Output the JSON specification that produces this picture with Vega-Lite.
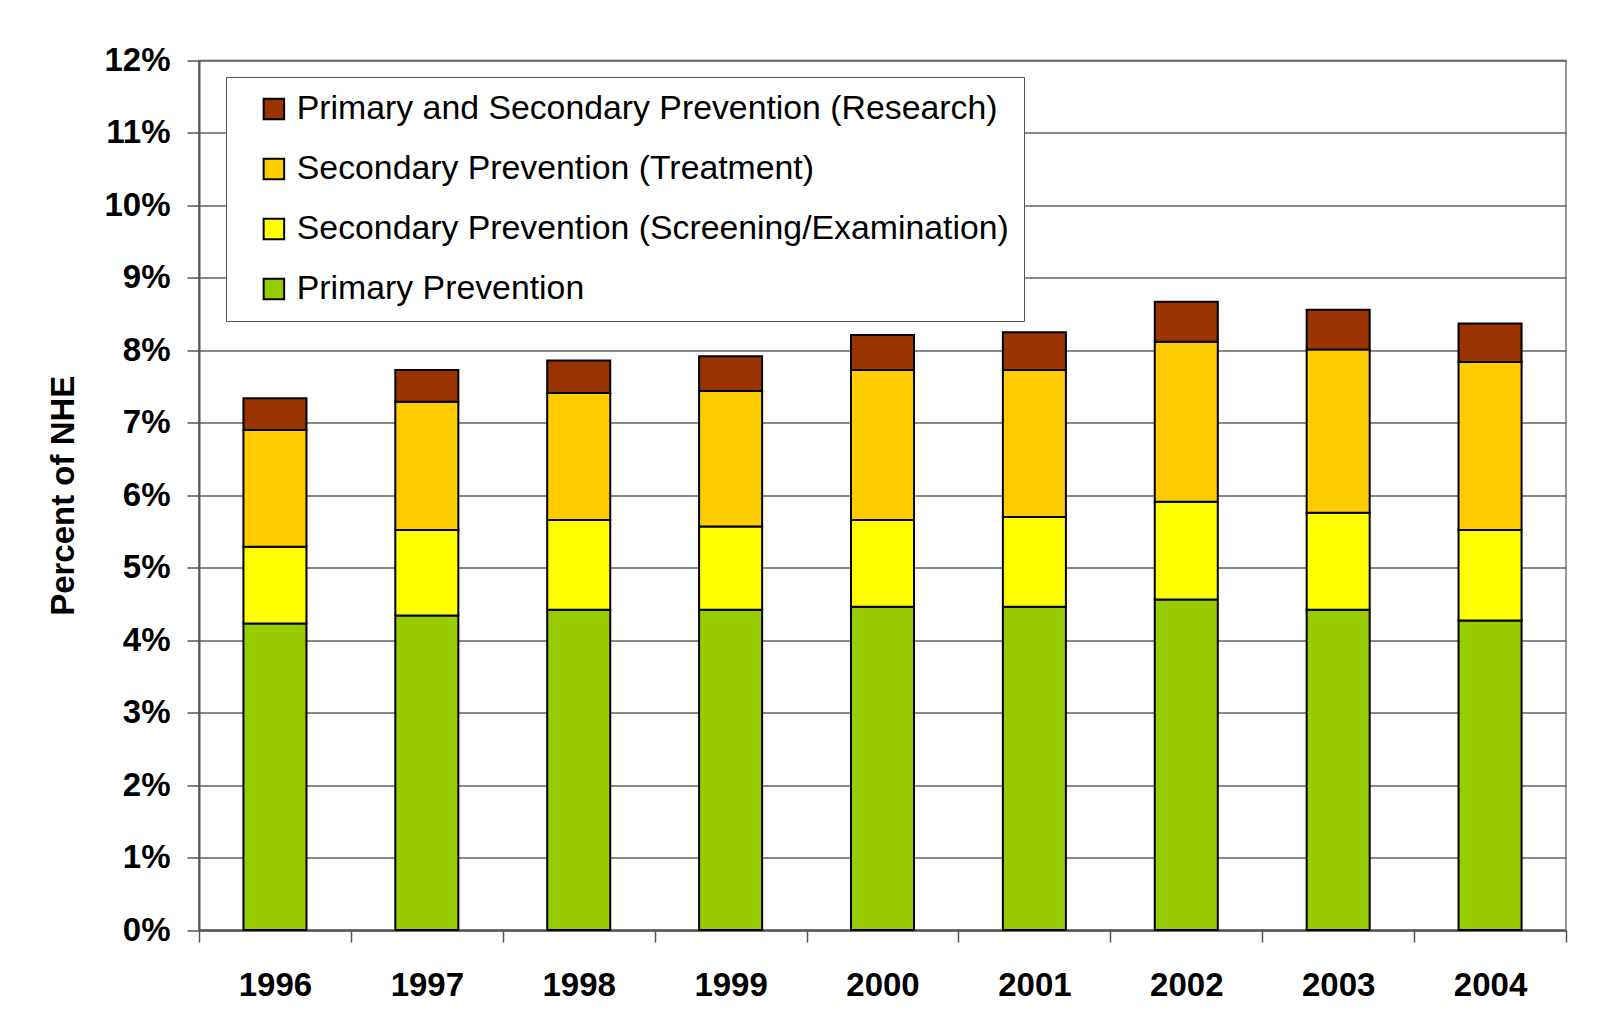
{
  "$schema": "https://vega.github.io/schema/vega-lite/v6.json",
  "autosize": "none",
  "padding": {"left": 199, "top": 60.5, "right": 42, "bottom": 105},
  "width": 1367,
  "height": 869.5,
  "background": "white",
  "config": {
    "font": "Liberation Sans",
    "view": {"stroke": "#999999", "strokeWidth": 2}
  },
  "data": {
    "values": [
      {"year": "1996", "category": "Primary Prevention", "ord": 1, "value": 4.23},
      {"year": "1996", "category": "Secondary Prevention (Screening/Examination)", "ord": 2, "value": 1.06},
      {"year": "1996", "category": "Secondary Prevention (Treatment)", "ord": 3, "value": 1.61},
      {"year": "1996", "category": "Primary and Secondary Prevention (Research)", "ord": 4, "value": 0.44},
      {"year": "1997", "category": "Primary Prevention", "ord": 1, "value": 4.34},
      {"year": "1997", "category": "Secondary Prevention (Screening/Examination)", "ord": 2, "value": 1.18},
      {"year": "1997", "category": "Secondary Prevention (Treatment)", "ord": 3, "value": 1.77},
      {"year": "1997", "category": "Primary and Secondary Prevention (Research)", "ord": 4, "value": 0.44},
      {"year": "1998", "category": "Primary Prevention", "ord": 1, "value": 4.42},
      {"year": "1998", "category": "Secondary Prevention (Screening/Examination)", "ord": 2, "value": 1.24},
      {"year": "1998", "category": "Secondary Prevention (Treatment)", "ord": 3, "value": 1.75},
      {"year": "1998", "category": "Primary and Secondary Prevention (Research)", "ord": 4, "value": 0.45},
      {"year": "1999", "category": "Primary Prevention", "ord": 1, "value": 4.42},
      {"year": "1999", "category": "Secondary Prevention (Screening/Examination)", "ord": 2, "value": 1.15},
      {"year": "1999", "category": "Secondary Prevention (Treatment)", "ord": 3, "value": 1.87},
      {"year": "1999", "category": "Primary and Secondary Prevention (Research)", "ord": 4, "value": 0.48},
      {"year": "2000", "category": "Primary Prevention", "ord": 1, "value": 4.46},
      {"year": "2000", "category": "Secondary Prevention (Screening/Examination)", "ord": 2, "value": 1.20},
      {"year": "2000", "category": "Secondary Prevention (Treatment)", "ord": 3, "value": 2.07},
      {"year": "2000", "category": "Primary and Secondary Prevention (Research)", "ord": 4, "value": 0.48},
      {"year": "2001", "category": "Primary Prevention", "ord": 1, "value": 4.46},
      {"year": "2001", "category": "Secondary Prevention (Screening/Examination)", "ord": 2, "value": 1.24},
      {"year": "2001", "category": "Secondary Prevention (Treatment)", "ord": 3, "value": 2.03},
      {"year": "2001", "category": "Primary and Secondary Prevention (Research)", "ord": 4, "value": 0.52},
      {"year": "2002", "category": "Primary Prevention", "ord": 1, "value": 4.56},
      {"year": "2002", "category": "Secondary Prevention (Screening/Examination)", "ord": 2, "value": 1.35},
      {"year": "2002", "category": "Secondary Prevention (Treatment)", "ord": 3, "value": 2.21},
      {"year": "2002", "category": "Primary and Secondary Prevention (Research)", "ord": 4, "value": 0.55},
      {"year": "2003", "category": "Primary Prevention", "ord": 1, "value": 4.42},
      {"year": "2003", "category": "Secondary Prevention (Screening/Examination)", "ord": 2, "value": 1.34},
      {"year": "2003", "category": "Secondary Prevention (Treatment)", "ord": 3, "value": 2.25},
      {"year": "2003", "category": "Primary and Secondary Prevention (Research)", "ord": 4, "value": 0.55},
      {"year": "2004", "category": "Primary Prevention", "ord": 1, "value": 4.27},
      {"year": "2004", "category": "Secondary Prevention (Screening/Examination)", "ord": 2, "value": 1.25},
      {"year": "2004", "category": "Secondary Prevention (Treatment)", "ord": 3, "value": 2.32},
      {"year": "2004", "category": "Primary and Secondary Prevention (Research)", "ord": 4, "value": 0.53}
    ]
  },
  "mark": {"type": "bar", "stroke": "black", "strokeWidth": 2, "width": {"band": 0.415}},
  "encoding": {
    "x": {
      "field": "year", "type": "ordinal",
      "scale": {"paddingInner": 0, "paddingOuter": 0},
      "axis": {
        "title": null, "labelAngle": 0, "labelFontSize": 33, "labelFontWeight": "bold",
        "labelColor": "black", "labelPadding": 27, "tickSize": 12, "tickBand": "extent",
        "tickColor": "#555555", "tickWidth": 1.5, "domainColor": "#555555", "domainWidth": 2,
        "grid": false
      }
    },
    "y": {
      "field": "value", "type": "quantitative", "stack": "zero",
      "scale": {"domain": [0, 12], "nice": false},
      "axis": {
        "title": "Percent of NHE", "titleFontSize": 33, "titleFontWeight": "bold", "titleColor": "black",
        "titlePadding": 23,
        "values": [0, 1, 2, 3, 4, 5, 6, 7, 8, 9, 10, 11, 12],
        "labelExpr": "datum.value + '%'",
        "labelFontSize": 33, "labelFontWeight": "bold", "labelColor": "black",
        "labelPadding": 17, "tickSize": 12, "tickColor": "#555555", "tickWidth": 1.5,
        "domainColor": "#555555", "domainWidth": 2,
        "grid": true, "gridColor": "#606060", "gridWidth": 1.5
      }
    },
    "color": {
      "field": "category", "type": "nominal",
      "scale": {
        "domain": ["Primary and Secondary Prevention (Research)", "Secondary Prevention (Treatment)", "Secondary Prevention (Screening/Examination)", "Primary Prevention"],
        "range": ["#993300", "#FFCC00", "#FFFF00", "#99CC00"]
      },
      "legend": {
        "title": null, "orient": "none", "legendX": 27, "legendY": 16.5,
        "fillColor": "white", "strokeColor": "#555555", "padding": 15,
        "symbolType": "square", "symbolSize": 420, "symbolStrokeColor": "black", "symbolStrokeWidth": 2,
        "symbolOpacity": 1, "symbolOffset": 16,
        "labelFontSize": 33.8, "labelColor": "black", "labelOffset": 6, "labelLimit": 900,
        "rowPadding": 25
      }
    },
    "order": {"field": "ord", "type": "quantitative", "sort": "ascending"}
  }
}
